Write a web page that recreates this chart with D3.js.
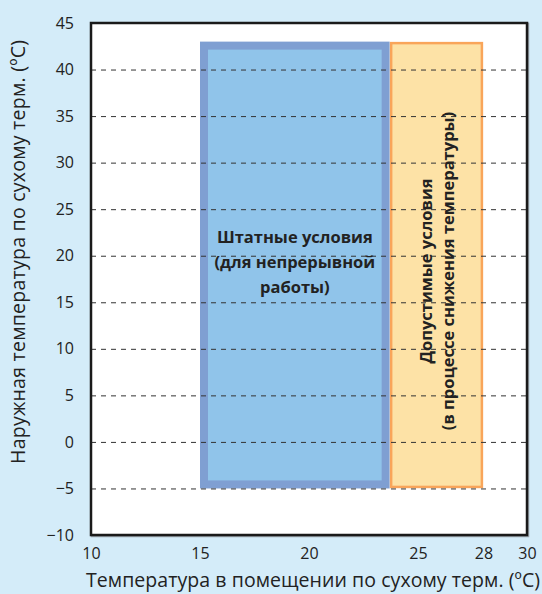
<!DOCTYPE html>
<html>
<head>
<meta charset="utf-8">
<script src="https://cdn.jsdelivr.net/npm/d3@7"></script>
<style>
  body { margin: 0; background: #d4ecf9; }
  svg { display: block; font-family: "Open Sans", "Noto Sans", sans-serif; }
</style>
</head>
<body>
<svg id="chart" width="542" height="594"></svg>
<script>
const xTicks = [10, 15, 20, 25, 28, 30];
const yTicks = [-10, -5, 0, 5, 10, 15, 20, 25, 30, 35, 40, 45];
const gridValues = [-5, 0, 5, 10, 15, 20, 25, 30, 35, 40];

// zones: [x0, x1, y0, y1]
const zoneNames = ["normal", "allowed"];
const zoneX0 = [15, 23.7];
const zoneX1 = [23.7, 28];
const zoneY0 = [-5, -5];
const zoneY1 = [43, 43];

const normalLabel = ["Штатные условия", "(для непрерывной", "работы)"];
const allowedLabel = ["Допустимые условия", "(в процессе снижения температуры)"];

const xTitle = "Температура в помещении по сухому терм. (ºC)";
const yTitle = "Наружная температура по сухому терм. (ºC)";

const svg = d3.select("#chart");
const margin = { top: 23, right: 15, bottom: 59, left: 91 };
const width = +svg.attr("width");
const height = +svg.attr("height");

const x = d3.scaleLinear().domain([10, 30]).range([margin.left, width - margin.right]);
const y = d3.scaleLinear().domain([-10, 45]).range([height - margin.bottom, margin.top]);

// plot background
svg.append("rect")
  .attr("x", x(10) + 1)
  .attr("y", y(45) + 1)
  .attr("width", x(30) - x(10))
  .attr("height", y(-10) - y(45))
  .attr("fill", "none")
  .attr("stroke", "#9aa5ad")
  .attr("stroke-width", 2.5);

svg.append("rect")
  .attr("x", x(10))
  .attr("y", y(45))
  .attr("width", x(30) - x(10))
  .attr("height", y(-10) - y(45))
  .attr("fill", "#fff");

// zones
const zones = zoneNames.map((n, i) => ({ name: n, x0: zoneX0[i], x1: zoneX1[i], y0: zoneY0[i], y1: zoneY1[i] }));

const normal = zones[0];
svg.append("rect")
  .attr("x", x(normal.x0) + 4)
  .attr("y", y(normal.y1) + 4)
  .attr("width", x(normal.x1) - x(normal.x0) - 8)
  .attr("height", y(normal.y0) - y(normal.y1) - 8)
  .attr("fill", "#90c4ea")
  .attr("stroke", "#7f9fd2")
  .attr("stroke-width", 8);

const allowed = zones[1];
svg.append("rect")
  .attr("x", x(allowed.x0) + 1.5)
  .attr("y", y(allowed.y1) + 1.5)
  .attr("width", x(allowed.x1) - x(allowed.x0) - 3)
  .attr("height", y(allowed.y0) - y(allowed.y1) - 3)
  .attr("fill", "#fde2a6")
  .attr("stroke", "#f9a55a")
  .attr("stroke-width", 2.5);

// Grid lines
svg.append("g")
  .attr("transform", `translate(${x(10)}, 0)`)
  .call(d3.axisRight(y).tickValues(gridValues).tickSize(x(30) - x(10)).tickFormat(""))
  .call(g => g.select(".domain").remove())
  .call(g => g.selectAll("line")
    .attr("stroke", "#333")
    .attr("stroke-width", 1)
    .attr("stroke-dasharray", "5,5"));

// frame
svg.append("rect")
  .attr("x", x(10))
  .attr("y", y(45))
  .attr("width", x(30) - x(10))
  .attr("height", y(-10) - y(45))
  .attr("fill", "none")
  .attr("stroke", "#1a1a1a")
  .attr("stroke-width", 2.5);

// Y Axis
svg.append("g")
  .attr("transform", `translate(${x(10) - 17}, 0)`)
  .call(d3.axisLeft(y).tickValues(yTicks).tickSize(0).tickFormat(d => d < 0 ? "\u2212" + Math.abs(d) : d))
  .call(g => g.select(".domain").remove())
  .selectAll("text")
  .attr("x", 0)
  .attr("fill", "#222")
  .style("font-size", "16px")
  .style("font-family", "Open Sans, sans-serif");

// X Axis
svg.append("g")
  .attr("transform", `translate(0, ${y(-10) + 10})`)
  .call(d3.axisBottom(x).tickValues(xTicks).tickSize(0))
  .call(g => g.select(".domain").remove())
  .selectAll("text")
  .attr("fill", "#222")
  .style("font-size", "16px")
  .style("font-family", "Open Sans, sans-serif");

// Axis labels
svg.append("text")
  .attr("x", 313)
  .attr("y", 587)
  .attr("text-anchor", "middle")
  .attr("fill", "#222")
  .attr("textLength", 454)
  .style("font-size", "19.5px")
  .text(xTitle);

svg.append("text")
  .attr("transform", "rotate(-90)")
  .attr("x", -252)
  .attr("y", 25)
  .attr("text-anchor", "middle")
  .attr("fill", "#222")
  .attr("textLength", 424)
  .style("font-size", "19.5px")
  .text(yTitle);

// zone labels
const nx = (x(normal.x0) + x(normal.x1)) / 2;
svg.append("text")
  .attr("text-anchor", "middle")
  .attr("fill", "#222")
  .style("font-size", "16.5px")
  .style("font-weight", "bold")
  .selectAll("tspan")
  .data(normalLabel)
  .join("tspan")
  .attr("x", nx)
  .attr("y", (d, i) => 243 + i * 25)
  .text(d => d);

const ax = (x(allowed.x0) + x(allowed.x1)) / 2;
svg.append("text")
  .attr("transform", `translate(${ax}, 271) rotate(-90)`)
  .attr("text-anchor", "middle")
  .attr("fill", "#222")
  .style("font-size", "16.5px")
  .style("font-weight", "bold")
  .selectAll("tspan")
  .data(allowedLabel)
  .join("tspan")
  .attr("x", 0)
  .attr("y", (d, i) => -5 + i * 22)
  .text(d => d);
</script>
</body>
</html>
